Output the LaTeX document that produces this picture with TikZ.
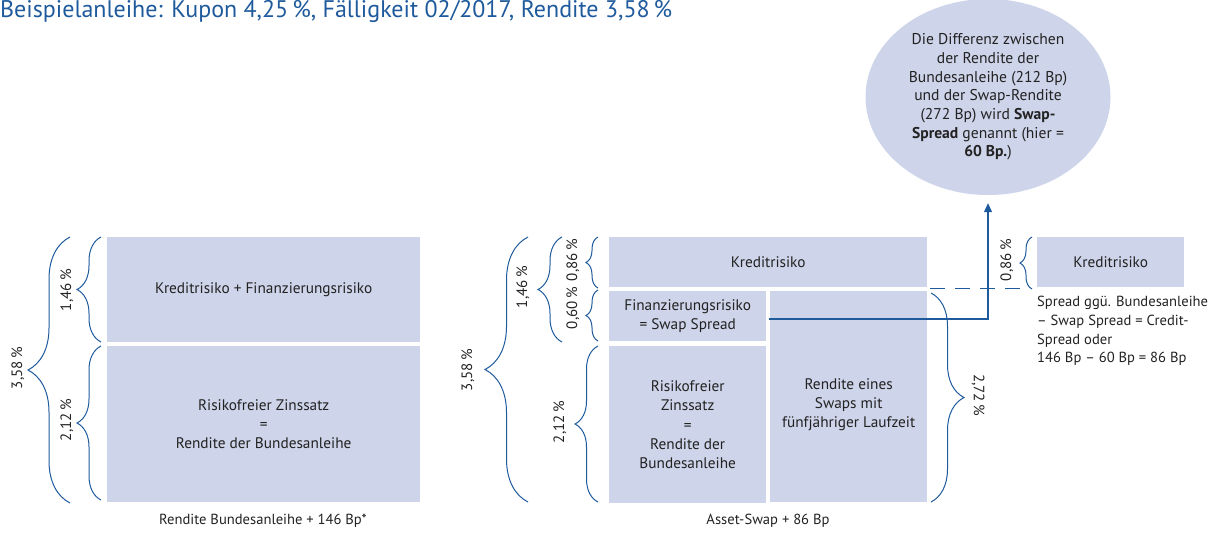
\documentclass[tikz,border=0pt]{standalone}
\usepackage{fontspec}
\setmainfont{PT Sans}
\usetikzlibrary{arrows.meta,decorations.pathreplacing,shapes.geometric}
\definecolor{bbblue}{HTML}{1F5A9C}
\definecolor{boxfill}{HTML}{CED4E9}
\definecolor{txt}{HTML}{222222}
\tikzset{
  feld/.style={fill=boxfill, anchor=north west, align=center, inner sep=0pt, text=txt,
    font=\fontsize{15.3}{19.3}\selectfont},
  klammer/.style={draw=bbblue, line width=1pt, decorate, decoration={brace, amplitude=#1}},
  proz/.style={rotate=90, text=txt, font=\fontsize{15}{18}\selectfont},
  notiz/.style={text=txt, font=\fontsize{14.6}{18.7}\selectfont},
}
\begin{document}
\begin{tikzpicture}[x=1pt,y=-1pt]
    \useasboundingbox (0,0) rectangle (1218,533);

    % Title
    \node[anchor=base west, inner sep=0pt, text=bbblue, font=\fontsize{24}{28}\selectfont] (titel) at (0,17)
        {Beispielanleihe: Kupon 4,25\,\%, Fälligkeit 02/2017, Rendite 3,58\,\%};

    % Left column: bond yield
    \node[feld, minimum width=313pt, minimum height=105pt] (kf) at (107,237) {Kreditrisiko + Finanzierungsrisiko};
    \node[feld, minimum width=313pt, minimum height=156pt] (rzl) at (107,346) {Risikofreier Zinssatz\\=\\Rendite der Bundesanleihe};
    \node[notiz] (capl) at (263,521) {Rendite Bundesanleihe + 146 Bp*};

    \draw[klammer=24] (101,342) -- (101,237);
    \draw[klammer=24] (101,500) -- (101,346);
    \draw[klammer=42] (70,503) -- (70,237);
    \node[proz] (l146) at (67,290) {1,46\,\%};
    \node[proz] (l212) at (67,420) {2,12\,\%};
    \node[proz] (l358) at (18,368) {3,58\,\%};

    % Middle column: asset swap
    \node[feld, minimum width=318pt, minimum height=50pt] (kr) at (609,237) {Kreditrisiko};
    \node[feld, minimum width=157pt, minimum height=50pt] (fin) at (609,291) {Finanzierungsrisiko\\= Swap Spread};
    \node[feld, minimum width=157pt, minimum height=157pt] (rzm) at (609,346) {Risikofreier\\Zinssatz\\=\\Rendite der\\Bundesanleihe};
    \node[feld, minimum width=157pt, minimum height=211pt,
          label={[feld, anchor=center, yshift=-8pt]center:Rendite eines\\Swaps mit\\fünfjähriger Laufzeit}] (sw) at (770,291) {};
    \node[notiz] (capm) at (768,521) {Asset-Swap + 86 Bp};

    \draw[klammer=43] (528,502) -- (528,237);
    \draw[klammer=24] (562,342) -- (562,237);
    \draw[klammer=12] (598,288) -- (598,237);
    \draw[klammer=12] (598,341) -- (598,290);
    \draw[klammer=23] (598,502) -- (598,346);
    \draw[klammer=33] (931,293) -- (931,502);
    \node[proz] (m358) at (468,370) {3,58\,\%};
    \node[proz] (m146) at (523,287) {1,46\,\%};
    \node[proz] (m086) at (573,260) {0,86\,\%};
    \node[proz] (m060) at (573,308) {0,60\,\%};
    \node[proz] (m212) at (560,422) {2,12\,\%};
    \node[proz, rotate=180] (m272) at (978,395) {2,72\,\%};

    % Right column: credit spread
    \node[feld, minimum width=147pt, minimum height=50pt] (kr2) at (1037,237) {Kreditrisiko};
    \draw[klammer=12] (1032,289) -- (1032,237);
    \node[proz] (r086) at (1007,260) {0,86\,\%};
    \node[notiz, anchor=north west, align=left, inner sep=0pt] (cs) at (1037,296)
        {Spread ggü. Bundesanleihe\\– Swap Spread = Credit-\\Spread oder\\146 Bp – 60 Bp = 86 Bp};
    \draw[bbblue, line width=1pt, dash pattern=on 15pt off 10pt] ([shift={(3,1)}]kr.south east) -- ([shift={(-14,1)}]kr2.south west);

    % Swap spread bubble
    \node[ellipse, fill=boxfill, minimum width=245pt, minimum height=196pt, inner sep=0pt,
          align=center, text=txt, font=\fontsize{15.6}{18.7}\selectfont] (ell) at (988,97)
        {Die Differenz zwischen\\der Rendite der\\Bundesanleihe (212 Bp)\\und der Swap-Rendite\\(272 Bp) wird \textbf{Swap-}\\\textbf{Spread} genannt (hier =\\\textbf{60 Bp.})};
    \coordinate (sp) at (769,319);
    \draw[bbblue, line width=1.2pt, -{Triangle[length=9pt,width=8pt]}] (sp) -| ([yshift=-8pt]ell.south);
\end{tikzpicture}
\end{document}
